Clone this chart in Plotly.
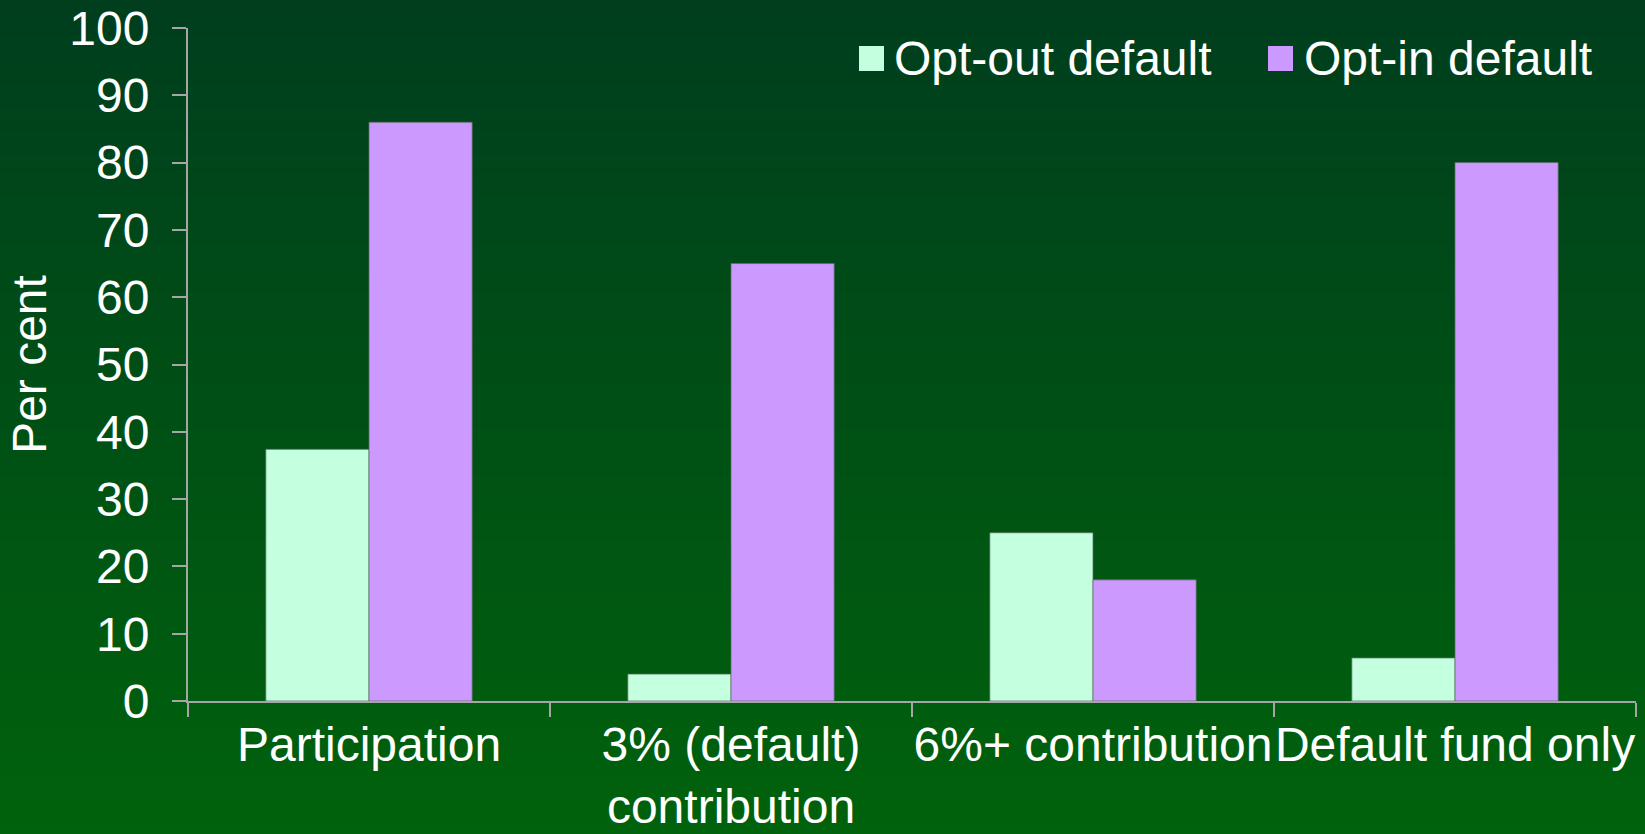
import plotly.graph_objects as go

# Survey results by enrolment design
categories = ["Participation", "3% (default)<br>contribution", "6%+ contribution", "Default fund only"]
series_names = ["Opt-out default", "Opt-in default"]
opt_out = [37.4, 4.0, 25.0, 6.4]
opt_in = [86.0, 65.0, 18.0, 80.0]
y_ticks = [0, 10, 20, 30, 40, 50, 60, 70, 80, 90, 100]

colors = ["#C4FFE0", "#CC99FF"]
FONT = "Liberation Sans, Arial, sans-serif"
FS = 48
W, H = 1645, 834
ML, MR, MT, MB = 188, 9, 28, 133
PW, PH = W - ML - MR, H - MT - MB


def px_x(p):
    return (p - ML) / PW


def px_y(p):
    return (H - MB - p) / PH


fig = go.Figure()
for name, vals, col in zip(series_names, [opt_out, opt_in], colors):
    fig.add_trace(go.Bar(
        x=categories, y=vals, name=name, showlegend=False,
        marker=dict(color=col, line=dict(color="rgba(90,110,100,0.75)", width=1)),
    ))

# vertical green gradient background
shapes = []
n = 140
top = (0, 62, 30)
bot = (0, 98, 12)
for i in range(n):
    t = i / (n - 1)
    c = tuple(round(top[k] + (bot[k] - top[k]) * t) for k in range(3))
    y0p = i * H / n
    y1p = (i + 1) * H / n + 1
    shapes.append(dict(
        type="rect", xref="paper", yref="paper", layer="below",
        x0=px_x(-5), x1=px_x(W + 5), y0=px_y(y1p), y1=px_y(y0p),
        fillcolor="rgb(%d,%d,%d)" % c, line=dict(width=0),
    ))

# legend keys
legend_items = [(859, 892), (1268, 1302)]
annotations = []
for (sq_x, tx), name, col in zip(legend_items, series_names, colors):
    shapes.append(dict(
        type="rect", xref="paper", yref="paper",
        x0=px_x(sq_x), x1=px_x(sq_x + 25), y0=px_y(71), y1=px_y(46),
        fillcolor=col, line=dict(width=0),
    ))
    annotations.append(dict(
        xref="paper", yref="paper", x=px_x(tx), y=px_y(59),
        xanchor="left", yanchor="middle", text=name, showarrow=False,
        font=dict(family=FONT, size=FS, color="white"),
    ))

axis_gray = "#A6A6A6"
fig.update_layout(
    width=W, height=H,
    margin=dict(l=ML, r=MR, t=MT, b=MB, autoexpand=False),
    paper_bgcolor="rgb(0,80,20)",
    plot_bgcolor="rgba(0,0,0,0)",
    barmode="group", bargap=0.43, bargroupgap=0,
    shapes=shapes, annotations=annotations,
    showlegend=False,
    font=dict(family=FONT, size=FS, color="white"),
    xaxis=dict(
        type="category", tickson="boundaries", ticks="outside", ticklen=14,
        tickwidth=1.5, tickcolor=axis_gray, showline=True, linecolor=axis_gray,
        linewidth=2, showgrid=False, zeroline=False, tickangle=0, automargin=False,
        ticklabelstandoff=0,
        tickfont=dict(family=FONT, size=FS, color="white"),
    ),
    yaxis=dict(
        range=[0, 100], tickvals=y_ticks, ticks="outside", ticklen=14,
        tickwidth=1.5, tickcolor=axis_gray, showline=True, linecolor=axis_gray,
        linewidth=2, showgrid=False, zeroline=False, automargin=False,
        ticklabelstandoff=13,
        tickfont=dict(family=FONT, size=FS, color="white"),
        title=dict(text="Per cent", standoff=8,
                   font=dict(family=FONT, size=FS, color="white")),
    ),
)

fig.write_html("out.html")
